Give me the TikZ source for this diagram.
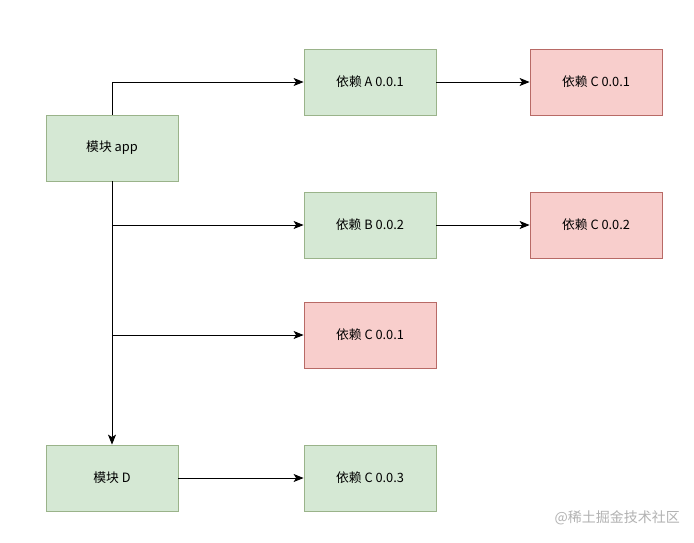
\documentclass[tikz,border=0pt]{standalone}
\usepackage{fontspec}
\setmainfont{Noto Sans CJK SC}
\usetikzlibrary{arrows.meta}
\definecolor{gfill}{HTML}{D5E8D4}
\definecolor{gline}{HTML}{9AB38A}
\definecolor{rfill}{HTML}{F8CECC}
\definecolor{rline}{HTML}{B86A66}
\tikzset{
  box/.style={draw, minimum width=132pt, minimum height=66pt, inner sep=0pt, font=\fontsize{12.8}{15}\selectfont, line width=0.8pt},
  gbox/.style={box, fill=gfill, draw=gline},
  rbox/.style={box, fill=rfill, draw=rline},
  conn/.style={line width=1pt, -{Stealth[length=10pt,width=8pt,inset=2.5pt]}},
}
\begin{document}
\begin{tikzpicture}[x=1pt,y=-1pt]
\useasboundingbox[fill=white] (0,0) rectangle (694,542);
\node[gbox] (app) at (112,148) {模块 app};
\node[gbox] (a1) at (370,82) {依赖 A 0.0.1};
\node[rbox] (c1) at (596,82) {依赖 C 0.0.1};
\node[gbox] (b2) at (370,225) {依赖 B 0.0.2};
\node[rbox] (c2) at (596,225) {依赖 C 0.0.2};
\node[rbox] (cm) at (370,335) {依赖 C 0.0.1};
\node[gbox] (d) at (112,478) {模块 D};
\node[gbox] (c3) at (370,478) {依赖 C 0.0.3};
\node[text=black!30, font=\fontsize{14}{16}\selectfont, anchor=east, inner sep=0pt] (wm) at (680,518) {@稀土掘金技术社区};
\coordinate (j1) at (app.south |- b2.west);
\coordinate (j2) at (app.south |- cm.west);
\draw[conn] (app.north) |- (a1.west);
\draw[conn] (app.south) -- (d.north);
\draw[conn] (j1) -- (b2.west);
\draw[conn] (j2) -- (cm.west);
\draw[conn] (a1.east) -- (c1.west);
\draw[conn] (b2.east) -- (c2.west);
\draw[conn] (d.east) -- (c3.west);
\end{tikzpicture}
\end{document}
